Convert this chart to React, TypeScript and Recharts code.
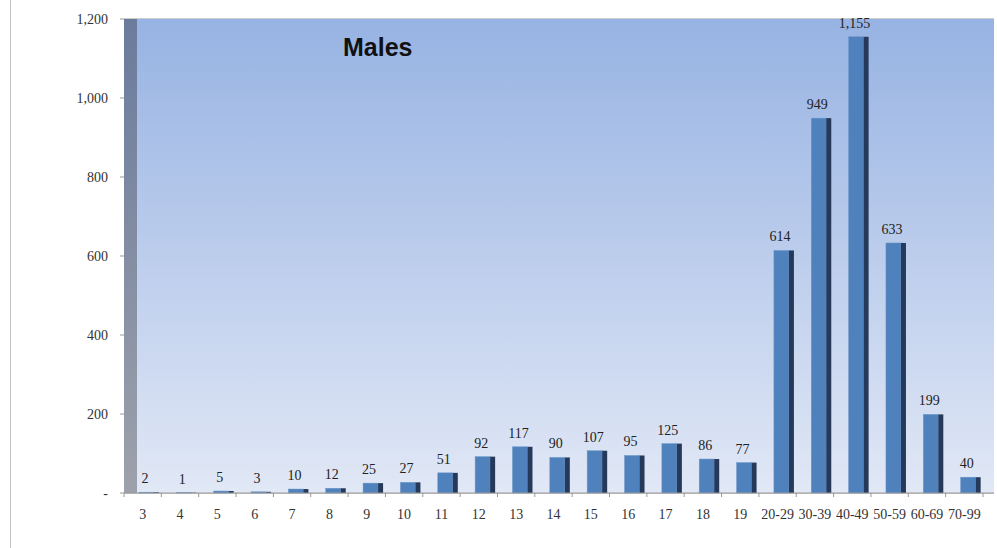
import { BarChart, Bar, XAxis, YAxis, CartesianGrid, LabelList, usePlotArea } from 'recharts';

const ageGroups = ['3', '4', '5', '6', '7', '8', '9', '10', '11', '12', '13', '14', '15', '16', '17', '18', '19', '20-29', '30-39', '40-49', '50-59', '60-69', '70-99'];
const maleCounts = [2, 1, 5, 3, 10, 12, 25, 27, 51, 92, 117, 90, 107, 95, 125, 86, 77, 614, 949, 1155, 633, 199, 40];
const yTicks = [0, 200, 400, 600, 800, 1000, 1200];

const chartData = ageGroups.map((age, i) => ({ age, males: maleCounts[i] }));

const fmt = (v: number) => (v === 0 ? '-' : v.toLocaleString('en-US'));
const serif = '"Liberation Serif", "Times New Roman", serif';

// back wall + left side wall, placed from the plot area so it follows the axes
function Backdrop() {
  const plot = usePlotArea();
  if (!plot) return null;
  const depth = 13;
  return (
    <g>
      <defs>
        <linearGradient id="wallBg" x1="0" y1="0" x2="0" y2="1">
          <stop offset="0%" stopColor="#97b3e3" />
          <stop offset="50%" stopColor="#bccdec" />
          <stop offset="100%" stopColor="#e1e8f6" />
        </linearGradient>
        <linearGradient id="sideWall" x1="0" y1="0" x2="0" y2="1">
          <stop offset="0%" stopColor="#6a7b9c" />
          <stop offset="100%" stopColor="#9da1ab" />
        </linearGradient>
      </defs>
      <rect x={plot.x + depth} y={plot.y} width={plot.width - depth} height={plot.height} fill="url(#wallBg)" />
      <rect x={plot.x} y={plot.y} width={depth} height={plot.height} fill="url(#sideWall)" />
    </g>
  );
}

function Bar3D(props: any) {
  const { x, y, width, height } = props;
  if (!height || height <= 0) return null;
  const shift = 6;
  const side = 5;
  return (
    <g>
      <rect x={x + shift} y={y} width={width - side} height={height} fill="#4f81bd" stroke="#6d95c8" strokeWidth={0.5} />
      <rect x={x + shift + width - side} y={y} width={side} height={height} fill="#25395a" />
    </g>
  );
}

function AgeTick(props: any) {
  const { x, y, payload, index, visibleTicksCount } = props;
  const half = payload?.offset ?? 18.7;
  return (
    <g>
      <line x1={x - half} y1={y} x2={x - half} y2={y + 4} stroke="#999" />
      {index === visibleTicksCount - 1 && (
        <line x1={x + half} y1={y} x2={x + half} y2={y + 4} stroke="#999" />
      )}
      <text x={x} y={y + 26} textAnchor="middle" fontFamily={serif} fontSize={14} fill="#333">
        {payload.value}
      </text>
    </g>
  );
}

export default function App() {
  return (
    <div style={{ position: 'absolute', left: 0, top: 0, width: 997, height: 548, background: '#fff' }}>
      <div style={{ position: 'absolute', left: 10, top: 0, width: 1, height: 548, background: '#c4c4c4' }} />
      <BarChart
        width={997}
        height={548}
        data={chartData}
        margin={{ top: 19, right: 3, left: 0, bottom: 0 }}
        barSize={20}
      >
        <Backdrop />
        <CartesianGrid vertical={false} stroke="#999" strokeWidth={1} />
        <XAxis
          dataKey="age"
          interval={0}
          height={55}
          padding={{ left: 0, right: 11 }}
          axisLine={{ stroke: '#999' }}
          tickLine={false}
          tickSize={0}
          tickMargin={0}
          tick={<AgeTick />}
        />
        <YAxis
          width={124}
          domain={[0, 1200]}
          ticks={yTicks}
          interval={0}
          axisLine={false}
          tickLine={{ stroke: '#999' }}
          tickSize={4}
          tickMargin={12}
          tickFormatter={fmt}
          tick={{ fontFamily: serif, fontSize: 14, fill: '#333' }}
        />
        <Bar dataKey="males" shape={<Bar3D />} isAnimationActive={false}>
          <LabelList
            dataKey="males"
            position="top"
            offset={9}
            dx={2}
            formatter={(v: any) => Number(v).toLocaleString('en-US')}
            style={{ fontFamily: serif, fontSize: 14, fill: '#222' }}
          />
        </Bar>
      </BarChart>
      <div
        style={{
          position: 'absolute',
          left: 343,
          top: 33,
          fontFamily: '"Liberation Sans", Arial, sans-serif',
          fontWeight: 'bold',
          fontSize: 25,
          color: '#111',
        }}
      >
        Males
      </div>
    </div>
  );
}
